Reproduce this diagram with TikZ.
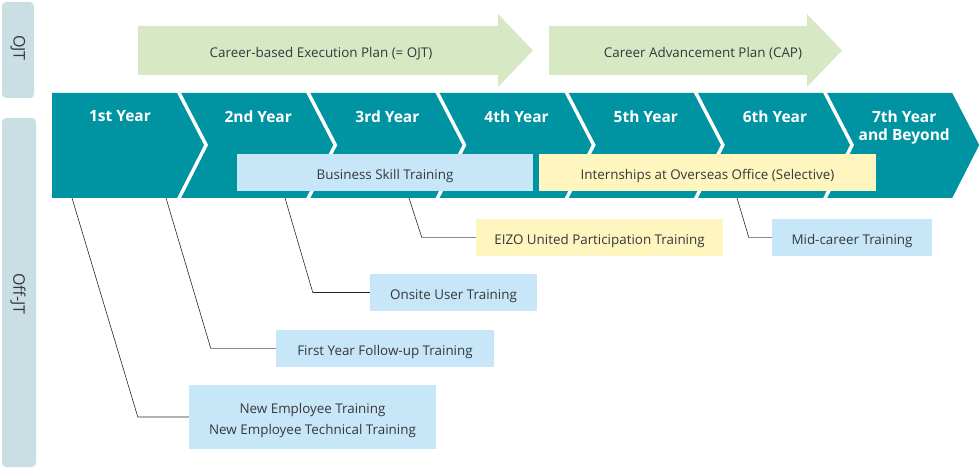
\documentclass[tikz,border=0pt]{standalone}
\usepackage{fontspec}
\setmainfont{Open Sans}
\definecolor{cteal}{RGB}{0,147,161}
\definecolor{cgreen}{RGB}{215,232,197}
\definecolor{cblue}{RGB}{199,231,248}
\definecolor{cyellow}{RGB}{255,245,190}
\definecolor{ctab}{RGB}{201,223,228}
\definecolor{ctext}{RGB}{55,55,60}
\tikzset{plan/.style={x=1pt,y=-1pt,font=\fontsize{13.4}{15}\selectfont,text=ctext},
  yearlbl/.style={text=white,font=\fontsize{15.5}{18}\selectfont\bfseries,align=center,anchor=north,inner sep=0pt},
  tablbl/.style={rotate=-90,inner sep=0pt,font=\fontsize{16}{18}\selectfont},
  planlbl/.style={inner sep=0pt,text height=13.6pt,text depth=0pt},
  trainbox/.style={fill=#1,inner sep=0pt,minimum height=37pt,align=center,text height=13.6pt,text depth=0pt},
  conn/.style={black!85,line width=0.6pt}}

\begin{document}
\begin{tikzpicture}[plan]
    \useasboundingbox (0,0) rectangle (980,470);
    % OJT arrows
    \fill[cgreen] (138,26) -- (498,26) -- (498,14) -- (533,50.5) -- (498,87) -- (498,75) -- (138,75) -- cycle;
    \fill[cgreen] (549,26) -- (807,26) -- (807,14) -- (842,50.5) -- (807,87) -- (807,75) -- (549,75) -- cycle;
    \node[planlbl] (cep) at (321,50.5) {Career-based Execution Plan (= OJT)};
    \node[planlbl] (cap) at (703,50.5) {Career Advancement Plan (CAP)};
    % side tabs
    \fill[ctab,rounded corners=4pt] (2,2) rectangle (34,98);
    \fill[ctab,rounded corners=4pt] (2,118) rectangle (36,467);
    \node[tablbl] (ojt) at (18,48) {OJT};
    \node[tablbl] (offjt) at (18,294) {Off-JT};
    % year chevrons
    \foreach \i/\t in {0/1st Year,1/2nd Year,2/3rd Year,3/4th Year,4/5th Year,5/6th Year,6/{7th Year\\and Beyond}} {
      \pgfmathsetmacro\L{52+129.2*\i}
      \pgfmathsetmacro\d{\i==0 ? 0 : 27}
      \pgfmathsetmacro\c{\i==0 ? 68 : 77}
      \fill[cteal] (\L,93) -- ({\L+125},93) -- ({\L+152},145) -- ({\L+125},198) -- (\L,198) -- ({\L+\d},145) -- cycle;
      \node[yearlbl] (yr\i) at ({\L+\c},110.5) {\t};
    }
    % trainings
    \node[trainbox=cblue,minimum width=296pt] (bst) at (385,172.5) {Business Skill Training};
    \node[trainbox=cyellow,minimum width=337pt] (ios) at (707.5,172.5) {Internships at Overseas Office (Selective)};
    \node[trainbox=cyellow,minimum width=247pt] (eut) at (599.5,237.5) {EIZO United Participation Training};
    \node[trainbox=cblue,minimum width=160pt] (mct) at (852,237.5) {Mid-career Training};
    \node[trainbox=cblue,minimum width=167pt] (out) at (453.5,292.5) {Onsite User Training};
    \node[trainbox=cblue,minimum width=218pt] (fyf) at (385,348.5) {First Year Follow-up Training};
    \node[trainbox=cblue,minimum width=247pt,minimum height=64pt,text height=34pt,
      font=\fontsize{13.4}{20.7}\selectfont] (net) at (312.5,417)
      {New Employee Training\\New Employee Technical Training};
    % connectors
    \coordinate (s1) at (72,198);
    \coordinate (s2) at (166,198);
    \coordinate (s3) at (285,198);
    \coordinate (s4) at (409,198);
    \coordinate (s5) at (737,198);
    \coordinate (b2) at ([xshift=-65pt]fyf.west);
    \coordinate (b4) at ([xshift=-54pt]eut.west);
    \coordinate (b5) at ([xshift=-23pt]mct.west);
    \draw[conn] (s1) -- ([xshift=-51pt]net.west) -- (net.west);
    \draw[conn] (s2) -- (b2);
    \draw[conn,black!45] (b2) -- (fyf.west);
    \draw[conn] (s3) -- ([xshift=-57pt]out.west) -- (out.west);
    \draw[conn] (s4) -- (b4);
    \draw[conn,black!45] (b4) -- (eut.west);
    \draw[conn] (s5) -- (b5);
    \draw[conn,black!45] (b5) -- (mct.west);
\end{tikzpicture}
\end{document}
